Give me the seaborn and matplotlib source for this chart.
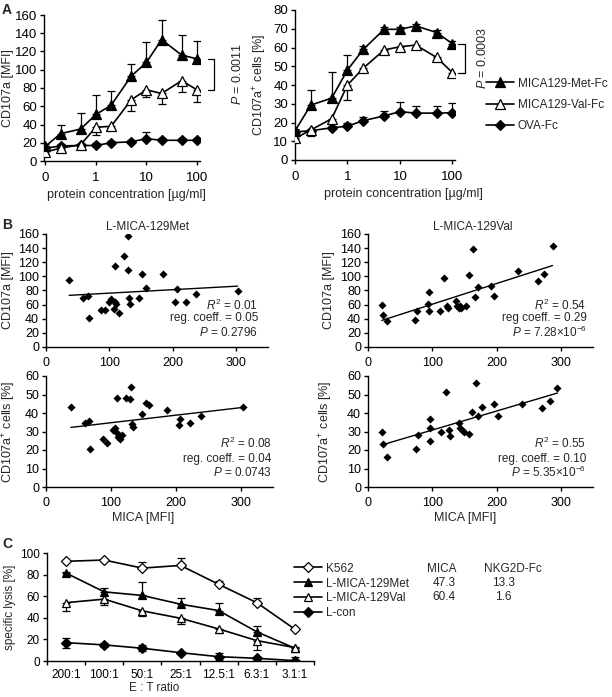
import numpy as np
import matplotlib
matplotlib.use("Agg")
import matplotlib.pyplot as plt
import matplotlib.transforms as mtransforms
import seaborn as sns

# ---------------------------------------------------------------------------
# Panel A: CD107a vs protein concentration
# ---------------------------------------------------------------------------
conc = [0, 0.2, 0.5, 1, 2, 5, 10, 20, 50, 100]

mfi_met = [16, 30, 35, 51, 61, 93, 108, 133, 116, 112]
mfi_met_err = [3, 9, 18, 21, 16, 13, 22, 22, 22, 20]
mfi_val = [10, 14, 18, 37, 38, 67, 78, 74, 88, 78]
mfi_val_err = [2, 2, 2, 9, 2, 12, 8, 11, 12, 13]
mfi_ova = [14, 16.5, 17, 17, 20, 21, 24.5, 22.7, 22.7, 22.7]
mfi_ova_err = [2, 2, 2, 3, 2, 2, 7, 2, 2, 2]

pct_met = [15.5, 29.3, 33, 48, 59, 69.7, 69.7, 71.5, 68, 62]
pct_met_err = [1, 8, 14, 8, 2, 1, 1, 1, 1.5, 1.5]
pct_val = [11.5, 16, 22, 40, 49, 58.7, 60.4, 61.3, 54.7, 46.6]
pct_val_err = [1, 3, 1, 8, 1, 1, 1, 1, 1, 2]
pct_ova = [15, 15.6, 17.2, 18, 21, 23.5, 25.8, 25, 25, 25.2]
pct_ova_err = [1, 1, 1, 1.5, 2, 2.5, 5, 4, 4, 5]

p_mfi = "0.0011"
p_pct = "0.0003"

# ---------------------------------------------------------------------------
# Panel B: CD107a vs MICA surface level
# ---------------------------------------------------------------------------
met_mica_mfi = [36.6, 58.6, 66.5, 67.5, 86.4, 92.7, 102, 99.5, 108.4, 106.8,
                114.7, 111, 108.9, 122.5, 129.3, 129.3, 130.4, 132, 146, 151.8,
                157, 184, 204, 206.8, 221, 236.6, 302]
met_cd107_mfi = [94.9, 69.9, 72.2, 41.5, 52.4, 52.4, 67.5, 63.3, 63.3, 53.8,
                 47.7, 61, 114.7, 129.4, 157.7, 109, 69, 61, 70, 103.4,
                 84, 103, 63.3, 82, 63.3, 75, 79.3]

met_mica_pct = [38.4, 60.5, 67, 68, 88.6, 93.8, 103, 106.6, 109, 110.8,
                114, 117, 110, 123.5, 129.7, 130.7, 132, 133.8, 147.7, 154.3,
                159, 186, 206.6, 205.6, 222, 239, 303]
met_cd107_pct = [43, 34.7, 35.8, 20.3, 26.2, 23.9, 31, 32, 29, 27,
                 25.7, 28, 48.2, 47.9, 47.4, 53.9, 34, 32.2, 39.2, 45.5,
                 44.3, 41.6, 36.5, 33.4, 34.7, 38.5, 43]

val_mica_mfi = [21.5, 23, 29.8, 73.4, 76, 95, 94, 95, 111.3, 118,
                123, 125, 137, 138, 142, 143.6, 145, 152.3, 157, 163,
                165.7, 171.8, 191.3, 196.4, 233.4, 264, 274.4, 287]
val_cd107_mfi = [59, 44.8, 36.3, 37.7, 51.4, 77.3, 60.9, 51.4, 50.4, 97.7,
                 57.5, 55, 65.6, 57.5, 55.2, 58.6, 55.7, 57.5, 101.4, 139.2,
                 70.3, 85, 86.8, 72.7, 107, 94, 103.4, 143.5]

val_mica_pct = [21.7, 23.3, 30, 74, 77.5, 96.7, 96.7, 96.7, 113.8, 121.5,
                125.6, 127, 141, 143.6, 146, 148.6, 156.6, 161.2, 168.5, 170.5,
                176.7, 196.4, 201.5, 240.3, 271.3, 282.8, 294.6]
val_cd107_pct = [29.5, 23.5, 16.3, 20.4, 28, 36.5, 32, 24.8, 29.8, 51.2,
                 30.7, 27.5, 34.7, 31.8, 30.8, 29.6, 28.9, 40.7, 56.4, 38.5,
                 43, 44.8, 38.3, 44.7, 42.8, 46.5, 53.3]

stats_met_mfi = ["0.01", "reg. coeff. = 0.05", "0.2796"]
stats_met_pct = ["0.08", "reg. coeff. = 0.04", "0.0743"]
stats_val_mfi = ["0.54", "reg coeff. = 0.29", "7.28×10$^{-6}$"]
stats_val_pct = ["0.55", "reg. coeff. = 0.10", "5.35×10$^{-6}$"]

# ---------------------------------------------------------------------------
# Panel C: specific lysis vs E:T ratio
# ---------------------------------------------------------------------------
et_ratio = ["200:1", "100:1", "50:1", "25:1", "12.5:1", "6.3:1", "3.1:1"]
lysis_k562 = [92.3, 93.5, 86, 88.5, 71, 54, 29.4]
lysis_k562_err = [1, 1, 5.5, 6.5, 3, 4, 1]
lysis_met = [81.4, 64, 60.7, 52.6, 46.7, 27, 11.8]
lysis_met_err = [1, 3.5, 12, 5.5, 7, 5, 1]
lysis_val = [54, 57.3, 46.4, 39.6, 29.7, 18.9, 12.4]
lysis_val_err = [8, 5, 5, 5, 4, 9, 2]
lysis_con = [17, 14.9, 11.8, 7.7, 4, 2.5, 0.3]
lysis_con_err = [4.5, 1.5, 3, 1, 3, 1, 3]

table_header = ["MICA", "NKG2D-Fc"]
table_mica = ["47.3", "60.4"]
table_nkg2d = ["13.3", "1.6"]

# ---------------------------------------------------------------------------
sns.set_style("ticks")
plt.rcParams.update({
    "font.family": ["Liberation Sans", "DejaVu Sans"],
    "mathtext.fontset": "custom",
    "mathtext.rm": "Liberation Sans",
    "mathtext.it": "Liberation Sans:italic",
    "mathtext.bf": "Liberation Sans:bold",
    "axes.linewidth": 1.0,
    "xtick.major.size": 3,
    "ytick.major.size": 3,
    "xtick.major.width": 1.0,
    "ytick.major.width": 1.0,
    "xtick.major.pad": 3,
    "ytick.major.pad": 2,
    "xtick.color": "black",
    "ytick.color": "black",
    "axes.edgecolor": "black",
})

W, H = 612, 697
fig = plt.figure(figsize=(W / 100, H / 100), dpi=100)


def box(l, t, r, b):
    return [l / W, 1 - b / H, (r - l) / W, (b - t) / H]


def series(ax, x, y, err, marker, filled, ms, label, side="up"):
    lo = err if side == "down" else [0] * len(err)
    hi = err if side == "up" else [0] * len(err)
    if side == "both":
        lo, hi = err, err
    ax.errorbar(x, y, yerr=[lo, hi], fmt="none", ecolor="black",
                elinewidth=0.9, capsize=3, capthick=0.9, zorder=2)
    sns.lineplot(x=x, y=y, ax=ax, color="black", lw=1.2, marker=marker,
                 ms=ms, mfc="black" if filled else "white", mec="black",
                 mew=0.9, errorbar=None, label=label, zorder=3)


def bracket(ax, y_top, y_bot, x_line, x_tick, x_text, ptxt, fs):
    tr = mtransforms.blended_transform_factory(ax.transAxes, ax.transData)
    ax.plot([x_tick, x_line, x_line, x_tick], [y_top, y_top, y_bot, y_bot],
            color="black", lw=0.9, transform=tr, clip_on=False)
    ax.text(x_text, (y_top + y_bot) / 2, f"$P$ = {ptxt}", transform=tr,
            rotation=90, ha="center", va="center", fontsize=fs)


# ----------------------------- Panel A ------------------------------------
conc_pos = [0.1 if c == 0 else c for c in conc]

axA1 = fig.add_axes(box(44, 15, 200, 161))
axA2 = fig.add_axes(box(295, 10, 455, 160))
for ax in (axA1, axA2):
    ax.set_xscale("log")

series(axA1, conc_pos, mfi_ova, mfi_ova_err, "D", True, 5, "OVA-Fc")
series(axA1, conc_pos, mfi_val, mfi_val_err, "^", False, 6.5, "MICA129-Val-Fc", "down")
series(axA1, conc_pos, mfi_met, mfi_met_err, "^", True, 6.5, "MICA129-Met-Fc")

series(axA2, conc_pos, pct_ova, pct_ova_err, "D", True, 5, "OVA-Fc")
series(axA2, conc_pos, pct_val, pct_val_err, "^", False, 6.5, "MICA129-Val-Fc", "down")
series(axA2, conc_pos, pct_met, pct_met_err, "^", True, 6.5, "MICA129-Met-Fc")

axA1.set_xlim(0.094, 115)
axA1.set_ylim(0, 160)
axA1.set_yticks(range(0, 161, 20))
axA2.set_xlim(0.1, 112)
axA2.set_ylim(0, 80)
axA2.set_yticks(range(0, 81, 10))
for ax in (axA1, axA2):
    ax.set_xticks([0.1, 1, 10, 100])
    ax.set_xticklabels(["0", "1", "10", "100"])
    ax.xaxis.set_minor_locator(matplotlib.ticker.NullLocator())
    ax.tick_params(labelsize=9.5)
    ax.tick_params(axis="x", pad=5)
    ax.set_xlabel("protein concentration [µg/ml]", fontsize=9)
    sns.despine(ax=ax)
axA1.set_ylabel("CD107a [MFI]", fontsize=9)
axA2.set_ylabel("CD107a$^{+}$ cells [%]", fontsize=9)
axA1.yaxis.set_label_coords(-0.19, 0.5)
axA2.yaxis.set_label_coords(-0.16, 0.5)
axA1.xaxis.set_label_coords(0.53, -0.19)
axA2.xaxis.set_label_coords(0.68, -0.19)

bracket(axA1, mfi_met[-1], mfi_val[-1], 1.09, 1.05, 1.24, p_mfi, 9)
bracket(axA2, pct_met[-1], pct_val[-1], 1.0625, 1.02, 1.17, p_pct, 9)

handles, labels = axA2.get_legend_handles_labels()
order = [labels.index(n) for n in ["MICA129-Met-Fc", "MICA129-Val-Fc", "OVA-Fc"]]
for ax in (axA1, axA2):
    ax.get_legend().remove()
fig.legend([handles[i] for i in order], [labels[i] for i in order],
           loc="center left", bbox_to_anchor=(486 / W, 1 - 105 / H),
           frameon=False, fontsize=8.5, handlelength=2.4, handletextpad=0.3,
           labelspacing=0.8, borderpad=0, borderaxespad=0)

# ----------------------------- Panel B ------------------------------------
stat_y_top = [0.37, 0.255, 0.13]
stat_y_bot = [0.39, 0.255, 0.13]
scatter_sets = [
    (box(46, 234, 268, 347), met_mica_mfi, met_cd107_mfi, stats_met_mfi, 160,
     "CD107a [MFI]", -0.145, "L-MICA-129Met", 0.455, 0.955, stat_y_top),
    (box(46, 376, 273, 487), met_mica_pct, met_cd107_pct, stats_met_pct, 60,
     "CD107a$^{+}$ cells [%]", -0.122, None, None, 0.994, stat_y_bot),
    (box(368, 234, 593, 347), val_mica_mfi, val_cd107_mfi, stats_val_mfi, 160,
     "CD107a [MFI]", -0.145, "L-MICA-129Val", 0.467, 0.972, stat_y_top),
    (box(368, 376, 593, 487), val_mica_pct, val_cd107_pct, stats_val_pct, 60,
     "CD107a$^{+}$ cells [%]", -0.145, None, None, 0.969, stat_y_bot),
]
for rect, xs, ys, st, ymax, ylab, ylx, title, tx, sx, sy in scatter_sets:
    ax = fig.add_axes(rect)
    sns.regplot(x=xs, y=ys, ax=ax, ci=None, color="black", marker="D",
                scatter_kws=dict(s=17, linewidths=0, alpha=1),
                line_kws=dict(lw=1.0))
    ax.set_xlim(0, 350)
    ax.set_ylim(0, ymax)
    ax.set_xticks([0, 100, 200, 300])
    ax.set_yticks(range(0, ymax + 1, 20 if ymax == 160 else 10))
    ax.tick_params(labelsize=9)
    ax.tick_params(axis="x", pad=4)
    ax.set_ylabel(ylab, fontsize=9)
    ax.yaxis.set_label_coords(ylx, 0.5)
    if ymax == 60:
        ax.set_xlabel("MICA [MFI]", fontsize=9)
        ax.xaxis.set_label_coords(0.43, -0.225)
    if title:
        ax.text(tx, 1.065, title, transform=ax.transAxes, ha="center",
                va="center", fontsize=8.5)
    lines = [f"$R^2$ = {st[0]}", st[1], f"$P$ = {st[2]}"]
    for txt, yy in zip(lines, sy):
        ax.text(sx, yy, txt, transform=ax.transAxes, ha="right", va="center",
                fontsize=8.5)
    sns.despine(ax=ax)

# ----------------------------- Panel C ------------------------------------
axC = fig.add_axes(box(47, 553, 314, 661))
xpos = np.arange(len(et_ratio))
series(axC, xpos, lysis_k562, lysis_k562_err, "D", False, 5, "K562")
series(axC, xpos, lysis_met, lysis_met_err, "^", True, 6, "L-MICA-129Met")
series(axC, xpos, lysis_val, lysis_val_err, "^", False, 6, "L-MICA-129Val", "down")
series(axC, xpos, lysis_con, lysis_con_err, "D", True, 5, "L-con", "both")
axC.set_xlim(-0.5, len(et_ratio) - 0.5)
axC.set_ylim(0, 100)
axC.set_yticks(range(0, 101, 20))
axC.set_xticks(xpos)
axC.set_xticklabels(et_ratio)
axC.set_xticks(np.arange(len(et_ratio) + 1) - 0.5, minor=True)
axC.tick_params(axis="x", which="major", length=0, pad=6)
axC.tick_params(axis="x", which="minor", length=3, width=1.0)
axC.tick_params(labelsize=8.5)
axC.set_ylabel("specific lysis [%]", fontsize=8.5)
axC.set_xlabel("E : T ratio", fontsize=8.5)
axC.yaxis.set_label_coords(-0.115, 0.5)
axC.xaxis.set_label_coords(0.40, -0.195)
sns.despine(ax=axC)
hC, lC = axC.get_legend_handles_labels()
axC.get_legend().remove()
fig.legend(hC, lC, loc="center left", bbox_to_anchor=(294 / W, 1 - 591 / H),
           frameon=False, fontsize=8.5, handlelength=2.4, handletextpad=0.3,
           labelspacing=0.25, borderpad=0, borderaxespad=0)

# small table next to the legend
fig.text(442 / W, 1 - 569 / H, table_header[0], ha="center", va="center", fontsize=8.5)
fig.text(513 / W, 1 - 569 / H, table_header[1], ha="center", va="center", fontsize=8.5)
for i, (m, n) in enumerate(zip(table_mica, table_nkg2d)):
    yy = 1 - (583 + 14.5 * i) / H
    fig.text(444 / W, yy, m, ha="center", va="center", fontsize=8.5)
    fig.text(503 / W, yy, n, ha="center", va="center", fontsize=8.5)

# panel letters
for letter, yy in [("A", 10), ("B", 225), ("C", 544)]:
    fig.text(2 / W, 1 - yy / H, letter, ha="left", va="center",
             fontsize=10, fontweight="bold")

fig.savefig("out.png", dpi=100)
